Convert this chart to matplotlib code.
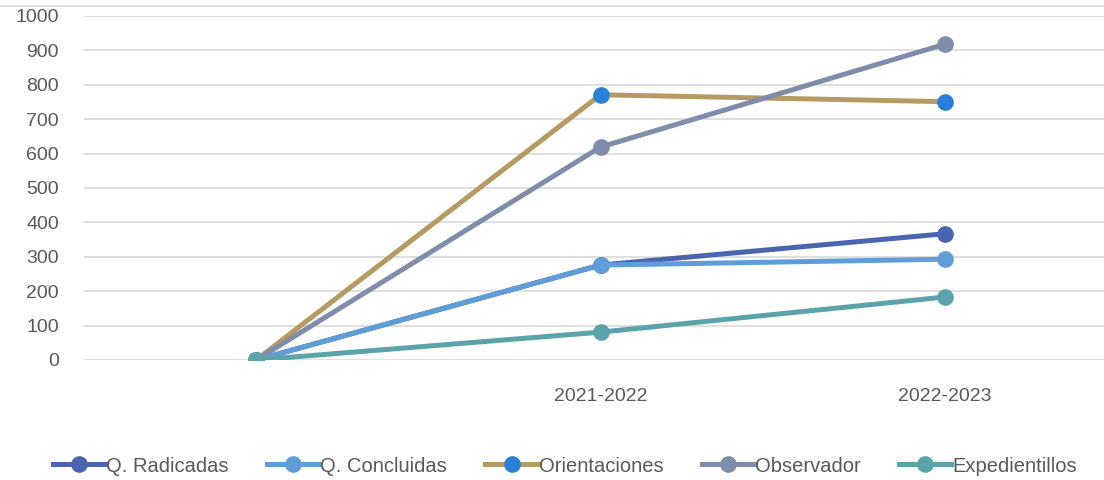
import matplotlib.pyplot as plt
from matplotlib.lines import Line2D

plt.rcParams['font.family'] = ['Liberation Sans', 'DejaVu Sans']

categories = ['', '2021-2022', '2022-2023']
radicadas = [0, 276, 367]
concluidas = [0, 276, 293]
orientaciones = [0, 771, 751]
observador = [0, 619, 918]
expedientillos = [0, 81, 183]

series = [
    ('Q. Radicadas', radicadas, '#4A64B0', '#4A64B0'),
    ('Q. Concluidas', concluidas, '#5F9DD8', '#5F9DD8'),
    ('Orientaciones', orientaciones, '#B59A62', '#2A80D9'),
    ('Observador', observador, '#7F8DAA', '#7F8DAA'),
    ('Expedientillos', expedientillos, '#5BA3AB', '#5BA3AB'),
]

fig = plt.figure(figsize=(11.04, 4.8), dpi=100)
# plot area extends past the right edge (reference is cropped)
ax = fig.add_axes([84 / 1104, 0.25, 1033 / 1104, 344 / 480])

x = list(range(len(categories)))
for name, vals, lc, mc in series:
    ax.plot(x, vals, color=lc, lw=3.6, marker='o', ms=11,
            mfc=mc, mec=mc, label=name, solid_capstyle='round', zorder=3)

ax.set_xlim(-0.5, len(categories) - 0.5)
ax.set_ylim(0, 1000)
ax.set_yticks(range(0, 1001, 100))
ax.set_xticks(x)
ax.set_xticklabels(categories)
ax.grid(axis='y', color='#D9D9D9', lw=1.2)
ax.set_axisbelow(True)
for s in ax.spines.values():
    s.set_visible(False)
ax.tick_params(length=0, labelsize=14, colors='#595959')
ax.tick_params(axis='x', pad=20)
ax.tick_params(axis='y', pad=18)

# chart border line at the top
fig.add_artist(Line2D([0, 1], [1 - 6 / 480, 1 - 6 / 480], color='#D9D9D9', lw=1.2))

handles = [Line2D([0], [0], color=lc, lw=3.6, marker='o', ms=11, mfc=mc, mec=mc)
           for _, _, lc, mc in series]
fig.legend(handles, [s[0] for s in series], loc='center', bbox_to_anchor=(565 / 1104, 1 - 466 / 480),
           ncol=5, frameon=False, fontsize=14.5, handlelength=2.6, handletextpad=0.05,
           columnspacing=1.9, labelcolor='#595959')

fig.savefig('out.png', dpi=100)
